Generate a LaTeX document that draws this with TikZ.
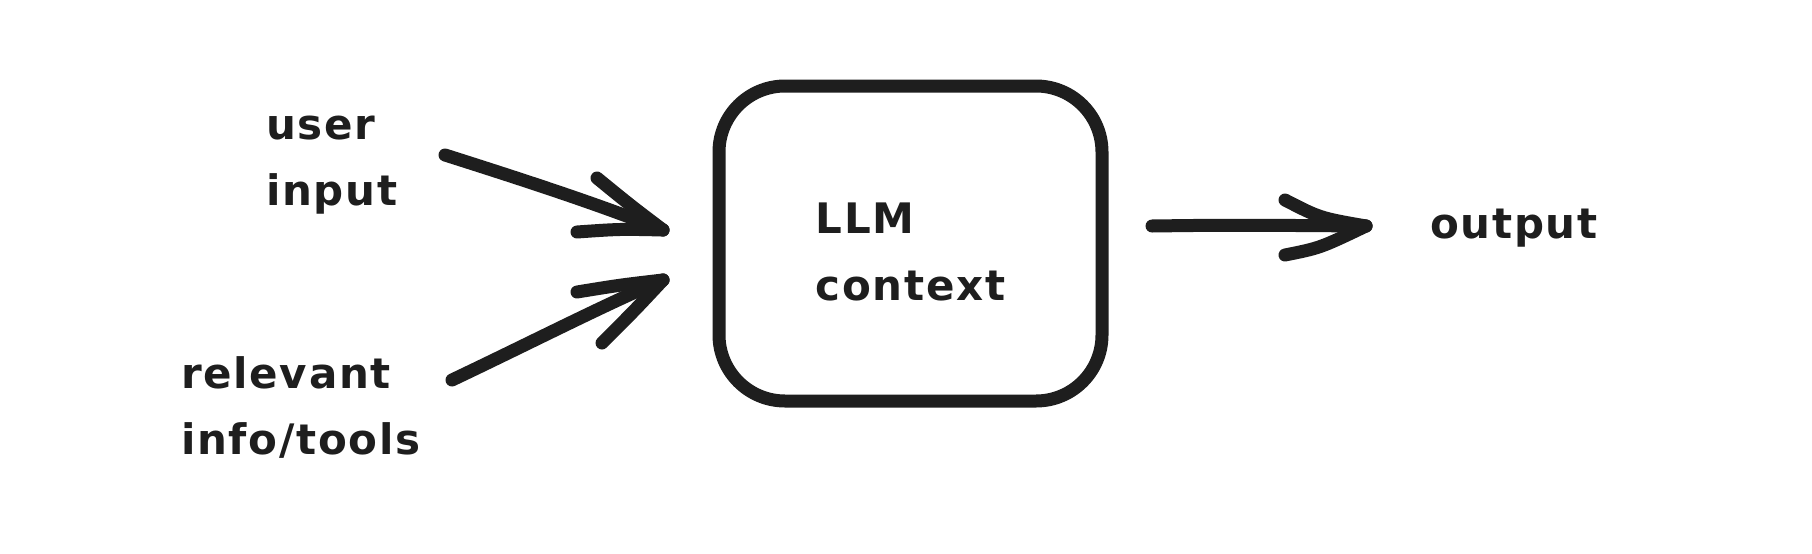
\documentclass[tikz,border=0pt]{standalone}
\usepackage{fontspec}
\setmainfont{DejaVu Sans}[LetterSpace=4]
\usetikzlibrary{calc}
\definecolor{ink}{HTML}{1E1E1E}
\tikzset{
  lbl/.style={font=\fontsize{42}{66}\selectfont\bfseries, text=ink, align=left, inner sep=0pt},
  llmbox/.style={draw=ink, line width=13pt, rounded corners=66pt, minimum width=383pt, minimum height=315pt,
     font=\fontsize{42}{67}\selectfont\bfseries, text=ink, align=left, inner sep=0pt},
  stroke/.style={draw=ink, line width=13pt, line cap=round, line join=round},
}
\begin{document}
\begin{tikzpicture}[x=1pt,y=-1pt]
\useasboundingbox (0,0) rectangle (1812,554);
\fill[white] (0,0) rectangle (1812,554);

\node[lbl, anchor=west] (user) at (266,165) {user\\input};
\node[lbl, anchor=west] (rel) at (181,407) {relevant\\info/tools};
\node[llmbox] (llm) at (910.5,243.5) {\rule{0pt}{48pt}LLM\\context};
\node[lbl, anchor=base west] (out) at (1430,238) {output};

% arrow 1
\coordinate (a1s) at (445,155);
\coordinate (a1t) at (663,230);
\coordinate (a1u) at (597,178);
\coordinate (a1l) at (577,232);
\draw[stroke] (a1s) .. controls (530,182) and (600,205) .. (a1t);
\draw[stroke] (a1u) .. controls (630,205) .. (a1t);
\draw[stroke] (a1l) .. controls (620,229) .. (a1t);

% arrow 2
\coordinate (a2s) at (452,380);
\coordinate (a2t) at (663,280);
\coordinate (a2u) at (577,292);
\coordinate (a2l) at (602,343);
\draw[stroke] (a2s) .. controls (530,343) and (610,302) .. (a2t);
\draw[stroke] (a2u) .. controls (620,285) .. (a2t);
\draw[stroke] (a2l) .. controls (635,310) .. (a2t);

% output arrow
\coordinate (a3s) at (1152,226);
\coordinate (a3t) at (1366,226);
\coordinate (a3u) at (1285,200);
\coordinate (a3l) at (1285,255);
\draw[stroke] (a3s) .. controls (1230,225) .. (a3t);
\draw[stroke] (a3u) .. controls (1320,218) .. (a3t);
\draw[stroke] (a3l) .. controls (1320,248) .. (a3t);
\end{tikzpicture}
\end{document}
